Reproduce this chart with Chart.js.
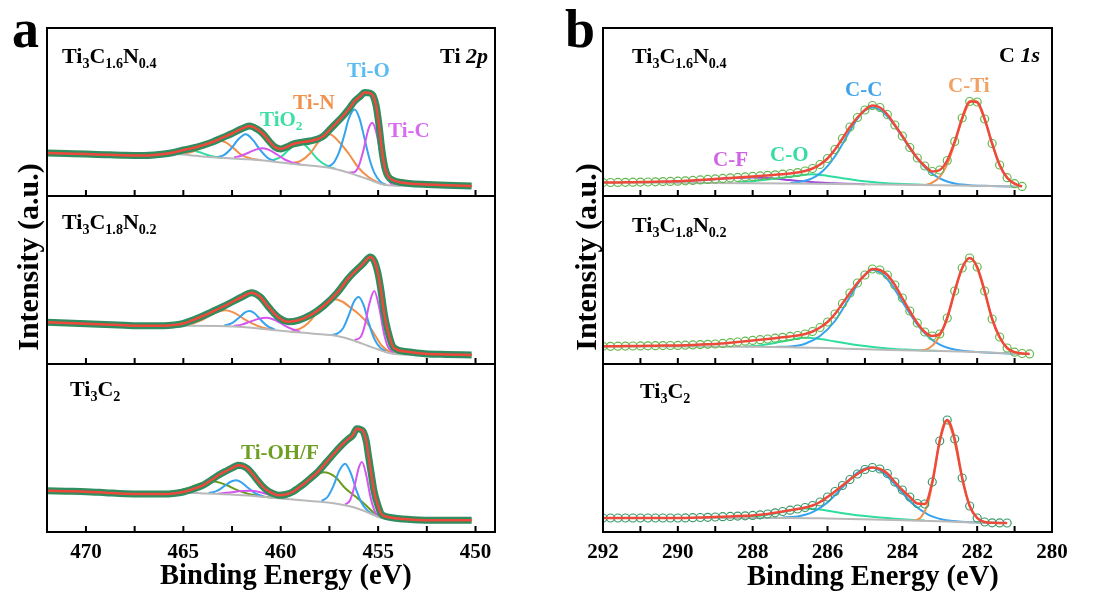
<!DOCTYPE html>
<html><head><meta charset="utf-8">
<script src="https://cdn.jsdelivr.net/npm/chart.js@4.4.1/dist/chart.umd.min.js"></script>
<style>
html,body{margin:0;padding:0;background:#fff;}
#fig{position:relative;width:1100px;height:594px;overflow:hidden;background:#fff;font-family:'Liberation Serif','Times New Roman',serif;font-weight:bold;color:#000;}
canvas{position:absolute;top:0;}
.t{position:absolute;white-space:nowrap;line-height:1;}
.t sub{font-size:0.64em;vertical-align:-0.32em;line-height:0;}
.t i{font-style:italic;}
</style></head><body>
<div id="fig">
<canvas id="ca" width="550" height="594" style="left:0"></canvas>
<canvas id="cb" width="550" height="594" style="left:550px"></canvas>
</div>
<script>
// ---------------- ticks ----------------
const aTickMarks = [470, 467.5, 465, 462.5, 460, 457.5, 455, 452.5, 450];
const aTickLabels = [470, 465, 460, 455, 450];
const bTickMarks = [291, 290, 289, 288, 287, 286, 285, 284, 283, 282, 281];
const bTickLabels = [292, 290, 288, 286, 284, 282, 280];

// ---------------- panel a: Ti 2p ([binding energy, intensity]) ----------------
// Ti3C1.6N0.4
const a1Spectrum = [[472,43],[471,42.5],[470,42],[469,41.3],[468,40.7],[467,40.5],[466.5,41],[466,42],[465.5,43.5],[465,46],[464.5,48],[464,50.7],[463.5,54],[463,58.3],[462.5,62.5],[462,67.3],[461.6,70],[461.2,66.7],[460.9,62],[460.6,55],[460.3,49],[460,47],[459.7,49],[459.4,51.7],[459,53.5],[458.5,55],[458.1,57],[457.8,60],[457.5,66],[457.2,72],[456.8,80],[456.5,87],[456.2,95],[455.9,100],[455.7,103.5],[455.45,103],[455.25,100],[455.1,90],[454.95,70],[454.8,45],[454.65,28],[454.5,20],[454.2,15.5],[453.8,13.5],[453.4,12.5],[452.5,11.5],[451.5,10.7],[450.2,10]];
const a1Background = [[466,42],[465.5,42],[465,41.5],[464.5,40.5],[464,39.5],[463,38.2],[462,37],[461,35.7],[460,33.5],[459,31.3],[458,29.5],[457.5,28.3],[457,26],[456.5,23.3],[456,20],[455.5,16.7],[455,13],[454.5,10.7],[454,10.2],[450.2,10]];
const a1TiC_32 = [[456.5,23.6],[456.25,23.8],[456,29.7],[455.75,46.1],[455.5,66.8],[455.3,73.2],[455.1,64.1],[454.85,39.7],[454.6,20.7],[454.35,12.7],[454.1,10.5]];
const a1TiC_12 = [[462.4,38.5],[462,40.5],[461.6,43.8],[461.2,46.9],[460.9,47.7],[460.6,46.1],[460.2,41.6],[459.8,36.5],[459.4,33.4],[459,31.6]];
const a1TiO_32 = [[457.6,29.3],[457.3,32.8],[457,44.1],[456.75,60],[456.5,77.6],[456.2,86.5],[455.95,77.1],[455.7,57.5],[455.45,37.5],[455.2,23.3],[454.9,14.6],[454.6,11.3]];
const a1TiO_12 = [[463.3,38.6],[462.9,41.1],[462.5,48.5],[462.2,56.2],[461.8,61.8],[461.4,55.4],[461.1,47.1],[460.7,38.5],[460.3,34.9]];
const a1TiN_32 = [[459.5,32.8],[459,34.8],[458.5,42.5],[458,55.5],[457.5,61.7],[457,54],[456.5,42],[456,28],[455.5,19],[455,13.5],[454.6,11]];
const a1TiN_12 = [[465,42.6],[464.5,44.4],[464,49.4],[463.6,54.2],[463.2,56],[462.8,53.3],[462.4,47.4],[462,40.9],[461.5,37.3],[461,35.8]];
const a1TiO2_32 = [[460.4,35.8],[460,39],[459.6,45.9],[459.3,51.4],[459,53.3],[458.7,50.1],[458.4,43.3],[458,35],[457.6,30.1],[457.2,27.2]];
const a1TiO2_12 = [[465.8,42.7],[465.4,44],[465,45.5],[464.6,45.8],[464.2,44],[463.8,41.3],[463.4,39.3],[463,38.3]];

// Ti3C1.8N0.2
const a2Spectrum = [[472,41.7],[471,41],[470,40.3],[469,39.5],[468,38.7],[467,38.2],[466,38.3],[465.5,39],[465,40.5],[464.5,44],[464,48],[463.5,52.5],[463,57],[462.4,63],[462,67],[461.5,71.3],[461.05,67],[460.6,56.3],[460.1,46.3],[459.6,42.3],[459.1,43.7],[458.4,49.7],[457.8,58],[457.1,71.3],[456.5,86.3],[455.8,99.7],[455.4,107],[455.2,103],[455,90],[454.85,73],[454.7,52],[454.5,33],[454.2,16.3],[453.5,12.3],[452.6,10.3],[451.5,9.5],[450.2,9]];
const a2Background = [[466,38.3],[465,38.2],[463.2,38],[461.5,36.3],[460,33.2],[459,31.5],[458.3,30.3],[457.1,28],[456.3,23.7],[455.5,18],[455,14.5],[454.5,11.3],[454,9.8],[450.2,9]];
const a2TiN_32 = [[459.4,33.4],[459,35.4],[458.6,40.8],[458.2,49.9],[457.8,59.8],[457.3,65],[456.8,62],[456.4,56],[456,50],[455.6,42],[455.2,30],[454.8,18],[454.4,12],[454,10]];
const a2TiO_32 = [[457.4,28.9],[457.1,30.3],[456.8,35.8],[456.5,49.1],[456.25,62],[456,67],[455.75,59.1],[455.5,42.3],[455.2,25.3],[454.9,16.3],[454.6,12.4]];
const a2TiC_32 = [[456.2,24],[455.9,27],[455.7,37.5],[455.45,60.3],[455.2,73],[454.95,57],[454.7,30.5],[454.5,17.3],[454.2,10.8]];
const a2TiN_12 = [[464.6,39.9],[464.2,42.6],[463.8,46.6],[463.3,51.8],[462.85,53.8],[462.4,51.3],[461.9,45.2],[461.5,40.9],[461,36.8],[460.5,34.7]];
const a2TiO_12 = [[462.9,38.4],[462.5,40.8],[462.1,47],[461.85,51.4],[461.6,53],[461.35,50.7],[461.1,45.7],[460.7,38.1],[460.3,34.4]];
const a2TiC_12 = [[462.4,38.3],[462,39.4],[461.6,42.1],[461.2,44.9],[460.7,46.3],[460.2,43],[459.8,38.4],[459.4,34.8],[459,32.4]];

// Ti3C2
const a3Spectrum = [[472,41.3],[471,40.8],[470,40.3],[469,39.3],[468,38.3],[467,38],[466,38],[465.5,38.6],[465,40],[464.5,43],[464,46.7],[463.6,51.5],[463.2,56.7],[462.8,61],[462.4,65],[462.2,66.7],[461.95,66],[461.7,63.3],[461.45,58],[461.2,51.7],[460.95,46],[460.7,41.7],[460.4,38.5],[460.1,36.7],[459.75,37.5],[459.4,40],[459.1,44],[458.8,48.3],[458.45,54],[458.1,60],[457.8,66.5],[457.5,73.3],[457.15,81],[456.8,88.3],[456.5,93.5],[456.3,96.7],[456.1,103.3],[455.9,102.5],[455.75,100],[455.6,90],[455.5,76.7],[455.35,58],[455.2,40],[455,26],[454.85,18.3],[454.6,15.5],[454.2,14],[453.2,12.3],[451.8,11.7],[450.2,11.7]];
const a3Background = [[466,38],[465,39.3],[464,38.6],[463.2,38],[461.7,36.5],[460,33.5],[458.5,31],[457.2,28.5],[456.3,25],[455.7,21],[455,15],[454.5,13],[454,12],[450.2,11.7]];
const a3TiOHF_32 = [[460,34.6],[459.5,36.7],[459,42.8],[458.5,52.4],[457.8,59.7],[457.2,55],[456.7,44],[456.2,36],[455.7,28],[455.2,19],[454.7,14],[454.3,12.5]];
const a3TiOHF_12 = [[465.3,41],[464.8,43.7],[464.2,48],[463.5,50.8],[462.8,47],[462.2,41.6],[461.6,37.8],[461,35.7],[460.4,34.2]];
const a3TiO_32 = [[457.9,31.2],[457.6,35],[457.3,45.8],[457,61.1],[456.7,68.3],[456.4,58.7],[456.1,40.9],[455.8,27.4],[455.5,20.7],[455.2,16.6]];
const a3TiO_12 = [[463.7,39],[463.3,40.8],[462.9,45.8],[462.6,50],[462.3,51.7],[462,49.4],[461.7,44.5],[461.3,38.6],[460.9,35.5]];
const a3TiC_32 = [[456.7,27.4],[456.45,31.5],[456.2,46.8],[456,63.9],[455.83,70],[455.6,56.1],[455.4,35.4],[455.15,19.7],[454.9,14.9]];
const a3TiC_12 = [[463.2,38.5],[462.6,39.4],[462,41],[461.5,41.3],[461,39.5],[460.4,36.2],[459.8,33.5]];

// ---------------- panel b: C 1s ----------------
const bEnergyGrid = [292.0,291.8,291.6,291.4,291.2,291.0,290.8,290.6,290.4,290.2,290.0,289.8,289.6,289.4,289.2,289.0,288.8,288.6,288.4,288.2,288.0,287.8,287.6,287.4,287.2,287.0,286.8,286.6,286.4,286.2,286.0,285.8,285.6,285.4,285.2,285.0,284.8,284.6,284.4,284.2,284.0,283.8,283.6,283.4,283.2,283.0,282.8,282.6,282.4,282.2,282.0,281.8,281.6,281.4,281.2,281.0,280.8,280.6];
const b1Counts = [13.4,13.5,13.6,13.7,13.8,13.9,14.0,14.2,14.4,14.6,14.8,15.2,15.6,16.1,16.6,17.1,17.6,18.1,18.6,19.1,19.6,20.1,20.6,21.2,21.8,22.5,23.4,25,27.5,31.5,37.5,46.5,57.5,69,78.5,86,90.5,88.5,81.5,71,60,48.5,38,30,24.5,26,35.5,54.5,78,94.5,94,77,52.5,31,18.3,12.3,9.6];
const b2Counts = [17.7,17.7,17.8,17.9,18.0,18.1,18.2,18.3,18.4,18.5,18.6,18.8,19.1,19.4,19.7,20.0,20.6,21.3,22.0,22.8,23.6,24.3,25.0,25.8,26.7,27.6,28.5,30,32.5,36.5,42,50,60.5,71,81,89,95,94,89,79,66,53,41,32,28,30,46,73,96,106,97,73,45,27,16,11.8,10.5,10.1];
const b3Counts = [14,14,14,14,14,14,14,14,14,14,14,14.1,14.3,14.5,14.7,15,15.3,15.6,15.9,16.2,16.6,17.2,18,19.2,20.5,21.8,23,24.5,26.5,30,35,40.5,46.5,52.5,58,62.5,64.5,63,58.5,50,42,35,28.5,28,50,91,112,93,54,26,14,10,9.2,9.1,9];

const b1Background = [[292,13.5],[287,12.5],[284.5,11.5],[283,10.7],[281,9.5],[280.8,9.4]];
const b1CC = [[287,13.1],[286.8,13.7],[286.6,15.2],[286.4,17.9],[286.2,22.6],[286,29.8],[285.8,39.8],[285.6,52.1],[285.4,65.2],[285.2,77.2],[285,85.6],[284.8,88.6],[284.6,86.2],[284.4,79.7],[284.2,70.2],[284,59],[283.8,47.6],[283.6,37.3],[283.4,28.8],[283.2,22.2],[283,17.6],[282.8,14.5],[282.6,12.6],[282.4,11.4],[282.2,10.8],[281.8,10.2],[281.4,9.8],[281,9.5]];
const b1CTi = [[283.4,10.8],[283.2,13.4],[283,19.2],[282.8,31.8],[282.6,52.7],[282.4,76.8],[282.2,93.7],[282.1,96.1],[282,93.6],[281.8,76.5],[281.6,52.2],[281.4,31.1],[281.2,18.3],[281,12.3],[280.8,9.6]];
const b1CO = [[288.4,13.7],[288,14.8],[287.6,16.5],[287.2,18.2],[286.8,20.2],[286.4,21.8],[286,20.1],[285.6,17.8],[285.2,15.6],[284.8,14],[284.4,12.8],[284,12],[283.6,11.4],[283.2,10.9]];
const b1CF = [[290.4,13.9],[290,14.5],[289.5,15.5],[289,16.8],[288.5,18.1],[288,18.6],[287.5,17.7],[287,15.9],[286.5,14.2],[286,12.9],[285.5,12.2],[285,11.8]];

const b2Background = [[292,17.6],[288,17.2],[287,16.7],[286,16],[285,14.7],[284,13.8],[283,12.9],[282,11.9],[281,10.3],[280.6,10]];
const b2CC = [[287.4,17.1],[287,17.5],[286.6,20.2],[286.2,28],[285.8,43],[285.4,67],[285.1,85],[284.8,94],[284.5,88.9],[284.2,74.4],[283.9,56.2],[283.6,39.4],[283.3,26.9],[283,19.3],[282.7,15.2],[282.4,13.2],[282,12.1],[281.5,11.1],[281,10.3]];
const b2CO = [[288.2,17.3],[287.8,18.5],[287.4,21],[287,24],[286.6,26.2],[286.2,25],[285.8,22.5],[285.4,20],[285,18],[284.6,16.3],[284.2,15],[283.8,14.2],[283.4,13.5],[283,13]];
const b2CTi = [[283.5,13.4],[283.3,15.5],[283.1,22.4],[282.9,36.2],[282.7,58.9],[282.5,85.2],[282.35,100.5],[282.2,106.1],[282.05,100.2],[281.9,84.6],[281.7,57.8],[281.5,34.6],[281.3,20.2],[281.1,13.3],[280.9,10.9],[280.6,10]];

const b3Background = [[292,14],[287,14],[286,13.5],[284.5,12.3],[283,10.8],[281.8,9.2],[281.2,9]];
const b3CC = [[287.2,14.6],[286.8,15.6],[286.4,19.8],[286,29.5],[285.6,44.6],[285.2,59.4],[284.85,64.5],[284.5,58.9],[284.1,43.3],[283.7,27.4],[283.3,17.1],[282.9,12.3],[282.5,10.5],[282,9.6],[281.2,9]];
const b3CO = [[288.6,14.3],[288.2,15],[287.8,16.3],[287.4,18.5],[287,21.5],[286.6,23.5],[286.2,22.5],[285.8,20],[285.4,17.8],[285,16],[284.6,14.5],[284.2,13.3],[283.8,12.3],[283.4,11.4]];
const b3CTi = [[283.7,11.3],[283.5,14.9],[283.3,30.6],[283.15,58.2],[283,92.3],[282.83,111.6],[282.65,97.4],[282.5,71.6],[282.35,45.2],[282.2,26.2],[282,14],[281.8,10],[281.6,9.1]];

// ---------------- styles ----------------
const C = {
  fit: '#ee4a3c', bandA: '#2f8d5f', dotB1: '#62b84f', dotB3: '#3a9a6c', bg: '#b9b9b9',
  blue: '#35a3ef', orange: '#f28f49', green: '#2fde9e', magenta: '#d655f0', purple: '#9d46d8', olive: '#6a9b1d'
};
const FONT = "'Liberation Serif','Times New Roman',serif";

function pairs(arr) { return arr.map(([x, y]) => ({x, y})); }
function gridPts(grid, vals) { return vals.map((v, i) => ({x: grid[i], y: v})); }
function lineDs(points, color, width, axis) {
  return {data: points, yAxisID: axis, borderColor: color, borderWidth: width, pointRadius: 0,
    fill: false, cubicInterpolationMode: 'monotone', showLine: true};
}

const frames = {
  id: 'frames',
  afterDatasetsDraw(chart, args, opts) {
    const {ctx, chartArea} = chart;
    const xs = chart.scales.x;
    ctx.save();
    ctx.strokeStyle = '#000';
    ctx.lineWidth = 2;
    ['yBottom', 'yMiddle', 'yTop'].forEach(id => {
      const s = chart.scales[id];
      ctx.strokeRect(chartArea.left, s.top, chartArea.right - chartArea.left, s.bottom - s.top);
      ctx.beginPath();
      opts.marks.forEach(v => {
        const px = xs.getPixelForValue(v);
        ctx.moveTo(px, s.bottom);
        ctx.lineTo(px, s.bottom - 6);
      });
      ctx.stroke();
    });
    ctx.restore();
  }
};

function yAxis() {
  return {type: 'linear', min: 0, max: 168, stack: 'p', stackWeight: 1, position: 'left',
    grid: {display: false}, border: {display: false}, ticks: {display: false},
    afterFit: s => { s.width = 0; }};
}

function makePanel(id, xmin, xmax, labels, marks, pad, subplots) {
  const datasets = [];
  subplots.forEach(sp => {
    datasets.push(lineDs(sp.spectrum, C.fit, 2.5, sp.axis));
    datasets.push(sp.dots);
    datasets.push(lineDs(sp.background, C.bg, 2, sp.axis));
    sp.components.forEach(([pts, col]) => datasets.push(lineDs(pts, col, 2, sp.axis)));
  });
  new Chart(document.getElementById(id), {
    type: 'line',
    data: {datasets},
    options: {
      responsive: false, animation: false, normalized: false,
      layout: {padding: pad},
      plugins: {legend: {display: false}, tooltip: {enabled: false}, frames: {marks}},
      scales: {
        x: {type: 'linear', reverse: true, min: xmin, max: xmax, position: 'bottom',
          grid: {display: false}, border: {display: false},
          ticks: {font: {family: FONT, size: 21, weight: 'bold'}, color: '#000', padding: 0, maxRotation: 0, autoSkip: false},
          afterBuildTicks: s => { s.ticks = labels.map(v => ({value: v})); },
          afterFit: s => { s.height = 62; }},
        // stacked scales: the last one defined is placed at the top
        yBottom: yAxis(), yMiddle: yAxis(), yTop: yAxis()
      }
    },
    plugins: [frames]
  });
}

function bandA(points, axis) {
  return {data: points, yAxisID: axis, borderColor: C.bandA, borderWidth: 7, pointRadius: 0,
    fill: false, cubicInterpolationMode: 'monotone'};
}
function dotsB(points, color, axis) {
  return {data: points, yAxisID: axis, showLine: false, pointRadius: 4, pointBorderWidth: 1.2,
    pointBorderColor: color, pointBackgroundColor: 'rgba(0,0,0,0)', borderColor: color};
}

makePanel('ca', 449, 472, aTickLabels, aTickMarks, {left: 47, right: 55, top: 28, bottom: 0}, [
  {axis: 'yTop', spectrum: pairs(a1Spectrum), dots: bandA(pairs(a1Spectrum), 'yTop'), background: pairs(a1Background),
   components: [[pairs(a1TiC_32), C.magenta], [pairs(a1TiC_12), C.magenta], [pairs(a1TiO_32), C.blue], [pairs(a1TiO_12), C.blue],
                [pairs(a1TiN_32), C.orange], [pairs(a1TiN_12), C.orange], [pairs(a1TiO2_32), C.green], [pairs(a1TiO2_12), C.green]]},
  {axis: 'yMiddle', spectrum: pairs(a2Spectrum), dots: bandA(pairs(a2Spectrum), 'yMiddle'), background: pairs(a2Background),
   components: [[pairs(a2TiC_32), C.magenta], [pairs(a2TiC_12), C.magenta], [pairs(a2TiO_32), C.blue], [pairs(a2TiO_12), C.blue],
                [pairs(a2TiN_32), C.orange], [pairs(a2TiN_12), C.orange]]},
  {axis: 'yBottom', spectrum: pairs(a3Spectrum), dots: bandA(pairs(a3Spectrum), 'yBottom'), background: pairs(a3Background),
   components: [[pairs(a3TiC_32), C.magenta], [pairs(a3TiC_12), C.magenta], [pairs(a3TiO_32), C.blue], [pairs(a3TiO_12), C.blue],
                [pairs(a3TiOHF_32), C.olive], [pairs(a3TiOHF_12), C.olive]]}
]);

makePanel('cb', 280, 292, bTickLabels, bTickMarks, {left: 53, right: 48, top: 28, bottom: 0}, [
  {axis: 'yTop', spectrum: gridPts(bEnergyGrid, b1Counts), dots: dotsB(gridPts(bEnergyGrid, b1Counts), C.dotB1, 'yTop'), background: pairs(b1Background),
   components: [[pairs(b1CTi), C.orange], [pairs(b1CC), C.blue], [pairs(b1CO), C.green], [pairs(b1CF), C.purple]]},
  {axis: 'yMiddle', spectrum: gridPts(bEnergyGrid, b2Counts), dots: dotsB(gridPts(bEnergyGrid, b2Counts), C.dotB1, 'yMiddle'), background: pairs(b2Background),
   components: [[pairs(b2CTi), C.orange], [pairs(b2CC), C.blue], [pairs(b2CO), C.green]]},
  {axis: 'yBottom', spectrum: gridPts(bEnergyGrid, b3Counts), dots: dotsB(gridPts(bEnergyGrid, b3Counts), C.dotB3, 'yBottom'), background: pairs(b3Background),
   components: [[pairs(b3CTi), C.orange], [pairs(b3CC), C.blue], [pairs(b3CO), C.green]]}
]);

// ---------------- text ----------------
const fig = document.getElementById('fig');
function addText(html, left, baseline, size, color, rightAlign) {
  const d = document.createElement('div');
  d.className = 't';
  d.innerHTML = html;
  d.style.fontSize = size + 'px';
  d.style.top = (baseline - 0.8375 * size) + 'px';
  if (rightAlign) d.style.right = (1100 - left) + 'px'; else d.style.left = left + 'px';
  if (color) d.style.color = color;
  fig.appendChild(d);
}
function addVertical(text, cx, cy, size) {
  const d = document.createElement('div');
  d.className = 't';
  d.textContent = text;
  d.style.fontSize = size + 'px';
  d.style.width = '300px';
  d.style.height = size + 'px';
  d.style.textAlign = 'center';
  d.style.left = (cx - 150) + 'px';
  d.style.top = (cy - size / 2) + 'px';
  d.style.transform = 'rotate(-90deg)';
  fig.appendChild(d);
}

addText('a', 12, 47, 54);
addText('b', 565, 47, 54);
addText('Ti<sub>3</sub>C<sub>1.6</sub>N<sub>0.4</sub>', 62, 63, 22);
addText('Ti<sub>3</sub>C<sub>1.8</sub>N<sub>0.2</sub>', 62, 229, 22);
addText('Ti<sub>3</sub>C<sub>2</sub>', 70, 396, 22);
addText('Ti<sub>3</sub>C<sub>1.6</sub>N<sub>0.4</sub>', 632, 63, 22);
addText('Ti<sub>3</sub>C<sub>1.8</sub>N<sub>0.2</sub>', 632, 232, 22);
addText('Ti<sub>3</sub>C<sub>2</sub>', 640, 398, 22);
addText('Ti <i>2p</i>', 488, 63, 22, null, true);
addText('C <i>1s</i>', 1040, 62, 22, null, true);
addText('Ti-O', 347, 78, 21, '#5cbcf2');
addText('Ti-N', 293, 110, 21, '#f0914e');
addText('TiO<sub>2</sub>', 260, 127, 21, '#3ddfa4');
addText('Ti-C', 388, 138, 21, '#d86bef');
addText('Ti-OH/F', 241, 460, 21, '#6f9e22');
addText('C-C', 845, 97, 21, '#3fa3ea');
addText('C-Ti', 948, 93, 21, '#f3a063');
addText('C-O', 770, 162, 21, '#36dca0');
addText('C-F', 713, 167, 21, '#cf63e3');
addText('Binding Energy (eV)', 160, 585, 28.5);
addText('Binding Energy (eV)', 747, 586, 28.5);
addVertical('Intensity (a.u.)', 28, 257, 30);
addVertical('Intensity (a.u.)', 586, 257, 30);
</script>
</body></html>
